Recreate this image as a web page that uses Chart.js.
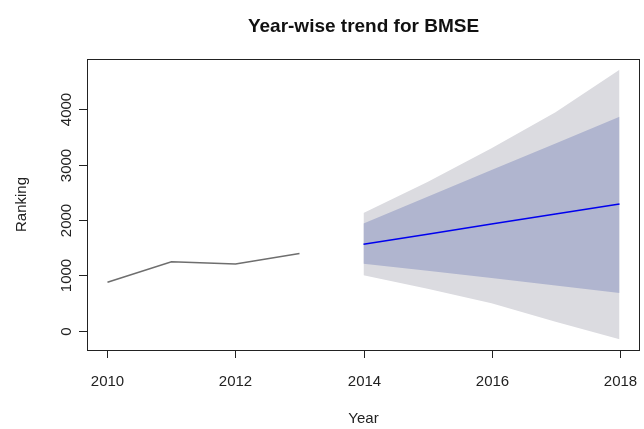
<!DOCTYPE html>
<html>
<head>
<meta charset="utf-8">
<title>Year-wise trend for BMSE</title>
<script src="https://cdn.jsdelivr.net/npm/chart.js@4/dist/chart.umd.min.js"></script>
<style>
  html, body { margin: 0; padding: 0; background: #fff; }
  #trendChart { display: block; }
</style>
</head>
<body>
<canvas id="trendChart" width="644" height="429"></canvas>
<script>
// Série histórica
const histYears = [2010, 2011, 2012, 2013];
const histRanking = [878, 1249, 1206, 1395];

// Previsão e intervalos (80% e 95%)
const fcYears = [2014, 2015, 2016, 2017, 2018];
const fcMean = [1564, 1745, 1930, 2110, 2291];
const lo80 = [1212, 1085, 955, 820, 685];
const hi80 = [1940, 2420, 2905, 3385, 3867];
const lo95 = [1006, 760, 500, 165, -151];
const hi95 = [2127, 2690, 3300, 3950, 4715];

// Marcas dos eixos
const xTicks = [2010, 2012, 2014, 2016, 2018];
const yTicks = [0, 1000, 2000, 3000, 4000];

const FONT = '"Liberation Sans", Arial, Helvetica, sans-serif';

function toPoints(xs, ys) {
    return xs.map((x, i) => ({ x: x, y: ys[i] }));
}

// Eixos, caixa e textos no estilo do R
const rAxesPlugin = {
    id: 'rAxes',
    afterDraw(chart) {
        const ctx = chart.ctx;
        const area = chart.chartArea;
        const xs = chart.scales.x;
        const ys = chart.scales.y;
        ctx.save();
        ctx.strokeStyle = '#222';
        ctx.lineWidth = 1;
        ctx.strokeRect(area.left + 0.5, area.top + 0.5, area.right - area.left - 1, area.bottom - area.top);

        ctx.fillStyle = '#222';
        ctx.font = '15px ' + FONT;

        // eixo x
        ctx.textAlign = 'center';
        ctx.textBaseline = 'middle';
        xTicks.forEach(v => {
            const px = Math.round(xs.getPixelForValue(v)) + 0.5;
            ctx.beginPath();
            ctx.moveTo(px, area.bottom);
            ctx.lineTo(px, area.bottom + 8);
            ctx.stroke();
            ctx.fillText(String(v), px, 382);
        });

        // eixo y (rótulos verticais)
        yTicks.forEach(v => {
            const py = Math.round(ys.getPixelForValue(v)) + 0.5;
            ctx.beginPath();
            ctx.moveTo(area.left, py);
            ctx.lineTo(area.left - 8, py);
            ctx.stroke();
            ctx.save();
            ctx.translate(67, py);
            ctx.rotate(-Math.PI / 2);
            ctx.fillText(String(v), 0, 0);
            ctx.restore();
        });

        const midX = (area.left + area.right) / 2;
        const midY = (area.top + area.bottom) / 2;

        ctx.fillText('Year', midX, 419);
        ctx.save();
        ctx.translate(22, midY);
        ctx.rotate(-Math.PI / 2);
        ctx.fillText('Ranking', 0, 0);
        ctx.restore();

        ctx.fillStyle = '#111';
        ctx.font = 'bold 19px ' + FONT;
        ctx.fillText('Year-wise trend for BMSE', midX, 27);
        ctx.restore();
    }
};

const lineBase = { pointRadius: 0, tension: 0, fill: false };

new Chart(document.getElementById('trendChart'), {
    type: 'line',
    data: {
        datasets: [
            { ...lineBase, data: toPoints(histYears, histRanking), borderColor: '#6e6e6e', borderWidth: 1.5 },
            { ...lineBase, data: toPoints(fcYears, fcMean), borderColor: '#0000ee', borderWidth: 1.6 },
            { ...lineBase, data: toPoints(fcYears, hi80), borderWidth: 0, fill: '+1', backgroundColor: '#b0b5cf' },
            { ...lineBase, data: toPoints(fcYears, lo80), borderWidth: 0 },
            { ...lineBase, data: toPoints(fcYears, hi95), borderWidth: 0, fill: '+1', backgroundColor: '#dbdbe0' },
            { ...lineBase, data: toPoints(fcYears, lo95), borderWidth: 0 }
        ]
    },
    options: {
        responsive: false,
        animation: false,
        layout: { padding: { left: 87, top: 59, right: 4, bottom: 79 } },
        plugins: {
            legend: { display: false },
            tooltip: { enabled: false },
            title: { display: false }
        },
        scales: {
            x: { type: 'linear', display: false, min: 2009.68, max: 2018.32 },
            y: { type: 'linear', display: false, min: -346, max: 4910 }
        }
    },
    plugins: [rAxesPlugin]
});
</script>
</body>
</html>
